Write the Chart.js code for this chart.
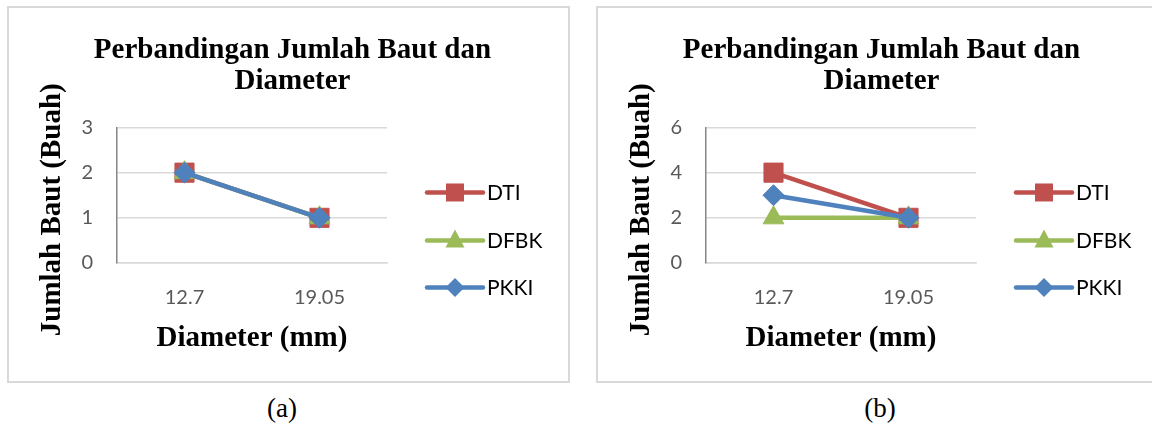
<!DOCTYPE html>
<html>
<head>
<meta charset="utf-8">
<script src="https://cdn.jsdelivr.net/npm/chart.js@4"></script>
<style>
  body { margin: 0; width: 1152px; height: 427px; overflow: hidden; background: #fff; position: relative; }
  .box { position: absolute; top: 6px; width: 563px; height: 377px; border: 2px solid #d9d9d9; box-sizing: border-box; }
  canvas { position: absolute; top: 6px; }
  .cap { position: absolute; top: 393px; width: 60px; text-align: center; font: 27px "Liberation Serif", serif; color: #000; }
</style>
</head>
<body>
<div class="box" style="left:7px"></div>
<div class="box" style="left:596px"></div>
<canvas id="chartA" width="563" height="377" style="left:7px"></canvas>
<canvas id="chartB" width="563" height="377" style="left:596px"></canvas>
<div class="cap" style="left:252px">(a)</div>
<div class="cap" style="left:850px">(b)</div>
<script>
// data
const categories = ["12.7", "19.05"];
const seriesNames = ["DTI", "DFBK", "PKKI"];

const dtiA = [2, 1];
const dfbkA = [2, 1];
const pkkiA = [2, 1];

const dtiB = [4, 2];
const dfbkB = [2, 2];
const pkkiB = [3, 2];

const colors = ["#C0504D", "#9BBB59", "#4F81BD"];
const styles = ["rect", "triangle", "rectRot"];
const radii = [13.5, 12, 10.5];

const serif = "'Liberation Serif', 'Times New Roman', serif";
Chart.defaults.font.family = "Lato, 'Open Sans', sans-serif";

function markerPath(ctx, style, x, y, s) {
    ctx.beginPath();
    if (style === "rect") {
        ctx.rect(x - s, y - s, 2 * s, 2 * s);
    } else if (style === "triangle") {
        ctx.moveTo(x, y - s * 1.15);
        ctx.lineTo(x + s, y + s * 0.75);
        ctx.lineTo(x - s, y + s * 0.75);
        ctx.closePath();
    } else {
        ctx.moveTo(x, y - s);
        ctx.lineTo(x + s, y);
        ctx.lineTo(x, y + s);
        ctx.lineTo(x - s, y);
        ctx.closePath();
    }
}

// legend on the right: line + marker + name
const sideLegend = {
    id: "sideLegend",
    afterDraw(chart) {
        const { ctx, chartArea } = chart;
        const x0 = chartArea.right + 40;
        const rows = [65, 113, 160];
        const sizes = [9, 9.5, 9.5];
        chart.data.datasets.forEach((ds, i) => {
            const y = chartArea.top + rows[i];
            ctx.save();
            ctx.strokeStyle = ds.borderColor;
            ctx.lineWidth = 4.5;
            ctx.lineCap = "round";
            ctx.beginPath();
            ctx.moveTo(x0, y);
            ctx.lineTo(x0 + 56, y);
            ctx.stroke();
            ctx.fillStyle = ds.borderColor;
            markerPath(ctx, styles[i], x0 + 28, y, sizes[i]);
            ctx.fill();
            ctx.fillStyle = "#000";
            ctx.font = "21px Lato, 'Open Sans', sans-serif";
            ctx.textBaseline = "middle";
            ctx.fillText(ds.label, x0 + 60, y + 1);
            ctx.restore();
        });
    }
};

function makeChart(id, values, yMax, yStep) {
    const ctx = document.getElementById(id).getContext("2d");
    return new Chart(ctx, {
        type: "line",
        data: {
            labels: categories,
            datasets: values.map((v, i) => ({
                label: seriesNames[i],
                data: v,
                borderColor: colors[i],
                backgroundColor: colors[i],
                pointBackgroundColor: colors[i],
                pointBorderColor: colors[i],
                pointBorderWidth: 1,
                borderWidth: 4.5,
                borderCapStyle: "round",
                pointStyle: styles[i],
                pointRadius: radii[i],
                pointHoverRadius: radii[i],
                order: 3 - i,
                tension: 0,
                fill: false
            }))
        },
        options: {
            responsive: false,
            animation: false,
            devicePixelRatio: 1,
            layout: { padding: { left: 8, right: 0, top: 0, bottom: 0 } },
            plugins: {
                legend: { display: false },
                tooltip: { enabled: false },
                title: {
                    display: true,
                    text: ["Perbandingan Jumlah Baut dan", "Diameter"],
                    color: "#000",
                    font: { family: serif, size: 29, weight: "bold", lineHeight: 1.06 },
                    padding: { top: 29, bottom: 31 }
                }
            },
            scales: {
                x: {
                    offset: true,
                    grid: { display: false },
                    border: { color: "#d9d9d9", width: 1.5 },
                    ticks: { color: "#595959", font: { size: 20 }, padding: 15 },
                    title: {
                        display: true,
                        text: "Diameter (mm)",
                        color: "#000",
                        font: { family: serif, size: 29, weight: "bold" },
                        padding: { top: 0, bottom: 27 }
                    },
                    afterFit(s) { s.height = 120; }
                },
                y: {
                    min: 0,
                    max: yMax,
                    grid: { color: "#d9d9d9", lineWidth: 1.5, drawTicks: false },
                    border: { color: "#868686", width: 1.5 },
                    ticks: { stepSize: yStep, color: "#595959", font: { size: 20 }, padding: 24 },
                    title: {
                        display: true,
                        text: "Jumlah Baut (Buah)    ",
                        color: "#000",
                        font: { family: serif, size: 29, weight: "bold" },
                        padding: { top: 20, bottom: 0 }
                    },
                    afterFit(s) { s.width = 102; }
                },
                pad: {
                    type: "linear",
                    position: "right",
                    display: true,
                    grid: { display: false },
                    border: { display: false },
                    ticks: { display: false },
                    afterFit(s) { s.width = 183; }
                }
            }
        },
        plugins: [sideLegend]
    });
}

makeChart("chartA", [dtiA, dfbkA, pkkiA], 3, 1);
makeChart("chartB", [dtiB, dfbkB, pkkiB], 6, 2);
</script>
</body>
</html>
